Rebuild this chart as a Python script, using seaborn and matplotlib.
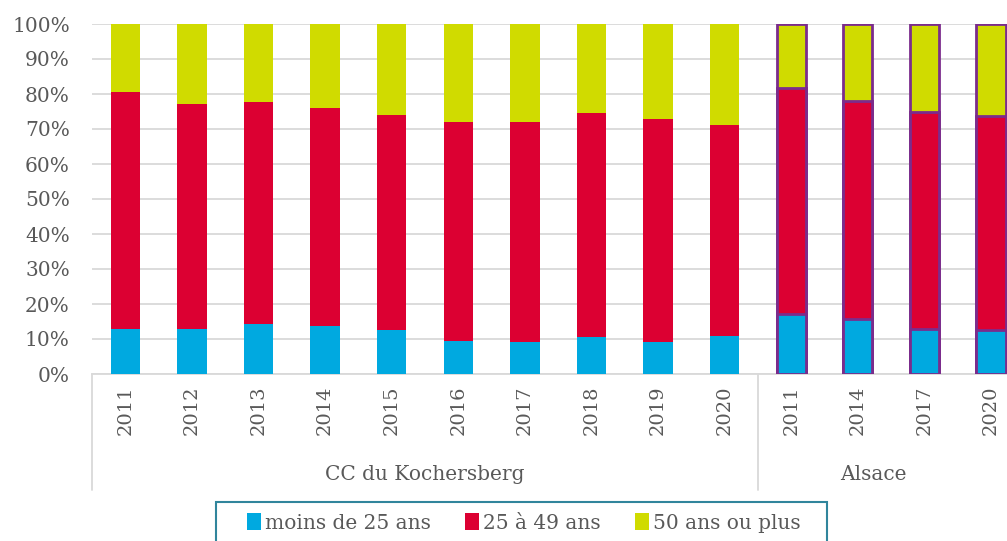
import matplotlib
matplotlib.use("Agg")
from matplotlib import pyplot as plt
from matplotlib.patches import Patch, Rectangle
import matplotlib.transforms as mtransforms
import pandas as pd
import seaborn as sns

# Age structure of job seekers, CC du Kochersberg vs Alsace

groups = ["CC du Kochersberg"] * 10 + ["Alsace"] * 4
years = ["2011", "2012", "2013", "2014", "2015", "2016", "2017", "2018", "2019", "2020",
         "2011", "2014", "2017", "2020"]
moins_25 = [12.8, 13.0, 14.2, 13.8, 12.5, 9.5, 9.2, 10.7, 9.2, 10.9, 17.1, 15.6, 12.8, 12.6]
de_25_49 = [67.9, 64.1, 63.4, 62.1, 61.5, 62.4, 62.9, 63.8, 63.7, 60.2, 64.7, 62.5, 62.1, 61.2]
plus_50 = [19.3, 22.9, 22.4, 24.1, 26.0, 28.1, 27.9, 25.5, 27.1, 28.9, 18.2, 21.9, 25.1, 26.2]
series = ["moins de 25 ans", "25 à 49 ans", "50 ans ou plus"]
colors = ["#00A9E0", "#DC0032", "#D0DB00"]

df = pd.DataFrame({"group": groups, "year": years,
                   "a": moins_25, "b": de_25_49, "c": plus_50})
df["key"] = [g + " " + y for g, y in zip(df["group"], df["year"])]
df["cum_a"] = df["a"]
df["cum_b"] = df["a"] + df["b"]
df["cum_c"] = df["a"] + df["b"] + df["c"]
order = list(df["key"])

grey = "#595959"
sns.set_style("white")
plt.rcParams['font.family'] = ['DejaVu Serif']

fig = plt.figure(figsize=(10.07, 5.41), dpi=100)
ax = fig.add_axes([92 / 1007, (541 - 374) / 541, 915 / 1007, 350 / 541])

# draw stacked bars as overlapping cumulative totals, tallest first
for col, color in zip(["cum_c", "cum_b", "cum_a"], colors[::-1]):
    sns.barplot(data=df, x="key", y=col, order=order, color=color,
                width=0.44, saturation=1, linewidth=0, ax=ax, zorder=3)

n = len(order)
for i, p in enumerate(ax.patches):
    if df["group"].iloc[i % n] == "Alsace":
        p.set_edgecolor("#7B2C8C")
        p.set_linewidth(2)

ax.set_xlim(-0.5, 13.24)
ax.set_ylim(0, 100)
ax.set_yticks(range(0, 101, 10))
ax.set_yticklabels([f"{v}%" for v in range(0, 101, 10)], fontsize=14.5, color=grey)
ax.set_xticks(range(n))
ax.set_xticklabels(years, rotation=90, fontsize=14, color=grey)
ax.tick_params(axis="y", length=0, pad=16)
ax.tick_params(axis="x", length=0, pad=8)
ax.set_xlabel("")
ax.set_ylabel("")
ax.yaxis.grid(True, color="#D9D9D9", linewidth=1.3, zorder=0)
for s in ["top", "right", "left"]:
    ax.spines[s].set_visible(False)
ax.spines["bottom"].set_color("#D9D9D9")
ax.spines["bottom"].set_linewidth(1.3)

# group labels and separators below the axis
trans = mtransforms.blended_transform_factory(ax.transData, ax.transAxes)
for xs in [-0.5, 9.5]:
    ax.plot([xs, xs], [0, -116 / 350], transform=trans, color="#D9D9D9",
            linewidth=1.3, clip_on=False)
ax.text(4.5, -100 / 350, "CC du Kochersberg", transform=trans, ha="center",
        va="center", fontsize=14.5, color=grey)
ax.text(11.24, -100 / 350, "Alsace", transform=trans, ha="center",
        va="center", fontsize=14.5, color=grey)

handles = [Patch(facecolor=c, edgecolor="none") for c in colors]
leg = fig.legend(handles, series, loc="center", ncol=3,
                 bbox_to_anchor=(524 / 1007, 1 - 523 / 541), frameon=False,
                 fontsize=14.5, handlelength=0.7, handleheight=0.9,
                 handletextpad=0.2, columnspacing=1.7, labelcolor=grey)
fig.patches.append(Rectangle((216 / 1007, -0.02), (827 - 216) / 1007, (541 - 502) / 541 + 0.02,
                             transform=fig.transFigure, fill=False,
                             edgecolor="#31859C", linewidth=1.5))

plt.savefig("out.png", dpi=100)
